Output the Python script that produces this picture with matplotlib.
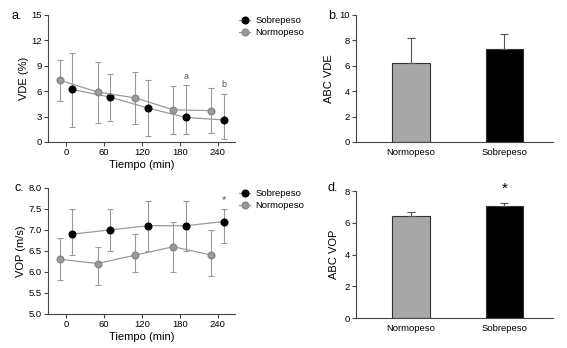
import numpy as np
import matplotlib
matplotlib.use("Agg")
import matplotlib.pyplot as plt

plt.rcParams['font.family'] = ['Liberation Sans', 'DejaVu Sans']

# panel a: VDE (%) over time
t_normo = [-10, 50, 110, 170, 230]
t_sobre = [10, 70, 130, 190, 250]
vde_normo = [7.3, 5.9, 5.2, 3.8, 3.7]
vde_normo_lo = [4.8, 2.2, 2.1, 1.0, 1.1]
vde_normo_hi = [9.7, 9.5, 8.3, 6.6, 6.4]
vde_sobre = [6.2, 5.3, 4.0, 2.9, 2.6]
vde_sobre_lo = [1.8, 2.5, 0.7, 0.9, 0.4]
vde_sobre_hi = [10.5, 8.0, 7.3, 6.7, 5.7]

# panel c: VOP (m/s) over time
vop_normo = [6.3, 6.2, 6.4, 6.6, 6.4]
vop_normo_lo = [5.8, 5.7, 6.0, 6.0, 5.9]
vop_normo_hi = [6.8, 6.6, 6.9, 7.2, 7.0]
vop_sobre = [6.9, 7.0, 7.1, 7.1, 7.2]
vop_sobre_lo = [6.4, 6.5, 6.5, 6.5, 6.7]
vop_sobre_hi = [7.5, 7.5, 7.7, 7.7, 7.5]

# panels b and d: area under curve
grupos = ['Normopeso', 'Sobrepeso']
abc_vde = [6.2, 7.3]
abc_vde_err = [2.0, 1.2]
abc_vop = [6.4, 7.05]
abc_vop_err = [0.25, 0.2]

gray = '#9a9a9a'
axc = '#444444'

fig = plt.figure(figsize=(5.67, 3.48), dpi=100)

def style(ax):
    for s in ['top', 'right']:
        ax.spines[s].set_visible(False)
    for s in ['left', 'bottom']:
        ax.spines[s].set_color(axc)
        ax.spines[s].set_linewidth(0.8)
    ax.tick_params(labelsize=6.8, length=3, width=0.8, color=axc, pad=1.5)

def line_panel(rect, yn, yn_lo, yn_hi, ys, ys_lo, ys_hi, ylim, yticks, ylabel, fmt):
    ax = fig.add_axes(rect)
    style(ax)
    en = [np.array(yn) - np.array(yn_lo), np.array(yn_hi) - np.array(yn)]
    es = [np.array(ys) - np.array(ys_lo), np.array(ys_hi) - np.array(ys)]
    ax.errorbar(t_normo, yn, yerr=en, fmt='none', ecolor=gray, elinewidth=0.8, capsize=2.5, capthick=0.8)
    ax.errorbar(t_sobre, ys, yerr=es, fmt='none', ecolor=gray, elinewidth=0.8, capsize=2.5, capthick=0.8)
    ax.plot(t_sobre, ys, color=gray, lw=0.9, marker='o', ms=4.8, mfc='black', mec='black', label='Sobrepeso', zorder=3)
    ax.plot(t_normo, yn, color=gray, lw=0.9, marker='o', ms=4.8, mfc=gray, mec='#888888', label='Normopeso', zorder=3)
    ax.set_xlim(-28, 268)
    ax.set_xticks([0, 60, 120, 180, 240])
    ax.set_ylim(*ylim)
    ax.set_yticks(yticks)
    ax.set_yticklabels([fmt.format(v) for v in yticks])
    ax.set_xlabel('Tiempo (min)', fontsize=8, labelpad=2)
    ax.set_ylabel(ylabel, fontsize=8, labelpad=2)
    ax.legend(loc='upper left', bbox_to_anchor=(1.0, 1.02), frameon=False, fontsize=6.8,
              handlelength=1.2, handletextpad=0.5, borderaxespad=0, labelspacing=0.3)
    return ax

def bar_panel(rect, vals, errs, ylim, yticks, ylabel):
    ax = fig.add_axes(rect)
    style(ax)
    ax.bar([0, 1], vals, width=0.4, color=['#a8a8a8', 'black'], edgecolor='#333333', linewidth=0.8)
    ax.errorbar([0, 1], vals, yerr=[[0, 0], errs], fmt='none', ecolor='#555555',
                elinewidth=0.8, capsize=3, capthick=0.8)
    ax.set_xlim(-0.59, 1.52)
    ax.set_xticks([0, 1])
    ax.set_xticklabels(grupos)
    ax.tick_params(axis='x', length=0, pad=4)
    ax.set_ylim(*ylim)
    ax.set_yticks(yticks)
    ax.set_ylabel(ylabel, fontsize=8, labelpad=4)
    return ax

ax_a = line_panel([0.085, 0.592, 0.33, 0.365], vde_normo, vde_normo_lo, vde_normo_hi,
                  vde_sobre, vde_sobre_lo, vde_sobre_hi, (0, 15), [0, 3, 6, 9, 12, 15], 'VDE (%)', '{:g}')
ax_a.text(190, 7.2, 'a', ha='center', va='bottom', fontsize=6.5, color='#555555')
ax_a.text(250, 6.2, 'b', ha='center', va='bottom', fontsize=6.5, color='#555555')

ax_c = line_panel([0.085, 0.098, 0.33, 0.362], vop_normo, vop_normo_lo, vop_normo_hi,
                  vop_sobre, vop_sobre_lo, vop_sobre_hi, (5.0, 8.0), [5.0, 5.5, 6.0, 6.5, 7.0, 7.5, 8.0], 'VOP (m/s)', '{:.1f}')
ax_c.text(250, 7.6, '*', ha='center', va='bottom', fontsize=8, color='#555555')

ax_b = bar_panel([0.628, 0.592, 0.347, 0.365], abc_vde, abc_vde_err, (0, 10), [0, 2, 4, 6, 8, 10], 'ABC VDE')
ax_d = bar_panel([0.628, 0.086, 0.347, 0.365], abc_vop, abc_vop_err, (0, 8), [0, 2, 4, 6, 8], 'ABC VOP')
ax_d.text(1, 7.7, '*', ha='center', va='bottom', fontsize=11)

fig.text(0.02, 0.955, 'a.', fontsize=9, va='center')
fig.text(0.578, 0.955, 'b.', fontsize=9, va='center')
fig.text(0.025, 0.46, 'c.', fontsize=9, va='center')
fig.text(0.578, 0.46, 'd.', fontsize=9, va='center')

fig.savefig('out.png', dpi=100)
